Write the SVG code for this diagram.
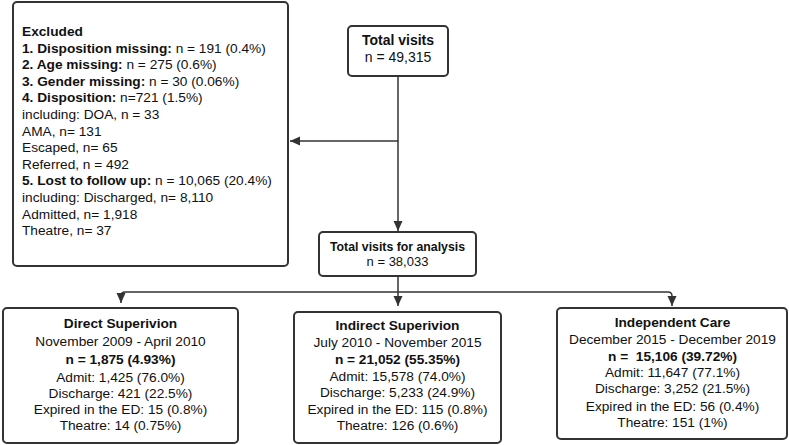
<svg xmlns="http://www.w3.org/2000/svg" width="789" height="445" viewBox="0 0 789 445">
<defs>
<style>
.box{fill:#fff;stroke:#333;stroke-width:2}
.ln{fill:none;stroke:#333;stroke-width:1.5}
text{font-family:"Liberation Sans",Arial,sans-serif;fill:#111;white-space:pre}
.ex{font-size:13.7px}
.c{text-anchor:middle;font-size:13.7px}
.b{font-weight:bold}
</style>
<marker id="ah" viewBox="0 0 10 10" refX="10" refY="5" markerWidth="10" markerHeight="10" markerUnits="userSpaceOnUse" orient="auto">
<path d="M0,0.5 L10,5 L0,9.5 Z" fill="#333"/>
</marker>
</defs>
<g id="connectors">
<path class="ln" d="M398,76 V231" marker-end="url(#ah)"/>
<path class="ln" d="M398,141 H290" marker-end="url(#ah)"/>
<path class="ln" d="M398,276 V306" marker-end="url(#ah)"/>
<path class="ln" d="M125,292 H668 Q672,292 672,296 V306" marker-end="url(#ah)"/>
<path class="ln" d="M125,292 Q121,292 121,296 V303" marker-end="url(#ah)"/>
</g>
<g id="excluded">
<rect class="box" x="13" y="2" width="275" height="264" rx="4"/>
<text class="ex" x="22"><tspan x="22" y="36" class="b">Excluded</tspan><tspan x="22" y="52.6"><tspan class="b">1. Disposition missing:</tspan> n = 191 (0.4%)</tspan><tspan x="22" y="69.2"><tspan class="b">2. Age missing:</tspan> n = 275 (0.6%)</tspan><tspan x="22" y="85.8"><tspan class="b">3. Gender missing:</tspan> n = 30 (0.06%)</tspan><tspan x="22" y="102.4"><tspan class="b">4. Disposition:</tspan> n=721 (1.5%)</tspan><tspan x="22" y="119">including: DOA, n = 33</tspan><tspan x="22" y="135.6">AMA, n= 131</tspan><tspan x="22" y="152.2">Escaped, n= 65</tspan><tspan x="22" y="168.8">Referred, n = 492</tspan><tspan x="22" y="185.4"><tspan class="b">5. Lost to follow up:</tspan> n = 10,065 (20.4%)</tspan><tspan x="22" y="202">including: Discharged, n= 8,110</tspan><tspan x="22" y="218.6">Admitted, n= 1,918</tspan><tspan x="22" y="235.2">Theatre, n= 37</tspan></text>
</g>
<g id="total">
<rect class="box" x="348" y="26" width="100" height="50" rx="4"/>
<text class="c b" x="398" y="45" style="font-size:14px">Total visits</text>
<text class="c" x="398" y="62" style="font-size:14px">n = 49,315</text>
</g>
<g id="analysis">
<rect class="box" x="319" y="232" width="157" height="44" rx="4"/>
<text class="c b" x="397.5" y="250.5" style="font-size:12.3px">Total visits for analysis</text>
<text class="c" x="397.5" y="266" style="font-size:13px">n = 38,033</text>
</g>
<g id="direct">
<rect class="box" x="3" y="308" width="235" height="135" rx="4"/>
<text class="c" x="120.5"><tspan x="120.5" y="328" class="b">Direct Superivion</tspan><tspan x="120.5" y="346">November 2009 - April 2010</tspan><tspan x="120.5" y="364" class="b">n = 1,875 (4.93%)</tspan><tspan x="120.5" y="381.5">Admit: 1,425 (76.0%)</tspan><tspan x="120.5" y="397.5">Discharge: 421 (22.5%)</tspan><tspan x="120.5" y="414">Expired in the ED: 15 (0.8%)</tspan><tspan x="120.5" y="430">Theatre: 14 (0.75%)</tspan></text>
</g>
<g id="indirect">
<rect class="box" x="294" y="312" width="207" height="131" rx="4"/>
<text class="c" x="397.5"><tspan x="397.5" y="330" class="b">Indirect Superivion</tspan><tspan x="397.5" y="347">July 2010 - November 2015</tspan><tspan x="397.5" y="364" class="b">n = 21,052 (55.35%)</tspan><tspan x="397.5" y="381">Admit: 15,578 (74.0%)</tspan><tspan x="397.5" y="397">Discharge: 5,233 (24.9%)</tspan><tspan x="397.5" y="414">Expired in the ED: 115 (0.8%)</tspan><tspan x="397.5" y="430">Theatre: 126 (0.6%)</tspan></text>
</g>
<g id="independent">
<rect class="box" x="557" y="308" width="230" height="131" rx="4"/>
<text class="c" x="672.5"><tspan x="672.5" y="327" class="b">Independent Care</tspan><tspan x="672.5" y="344">December 2015 - December 2019</tspan><tspan x="672.5" y="361" class="b">n =  15,106 (39.72%)</tspan><tspan x="672.5" y="377">Admit: 11,647 (77.1%)</tspan><tspan x="672.5" y="393">Discharge: 3,252 (21.5%)</tspan><tspan x="672.5" y="411">Expired in the ED: 56 (0.4%)</tspan><tspan x="672.5" y="427">Theatre: 151 (1%)</tspan></text>
</g>
</svg>
